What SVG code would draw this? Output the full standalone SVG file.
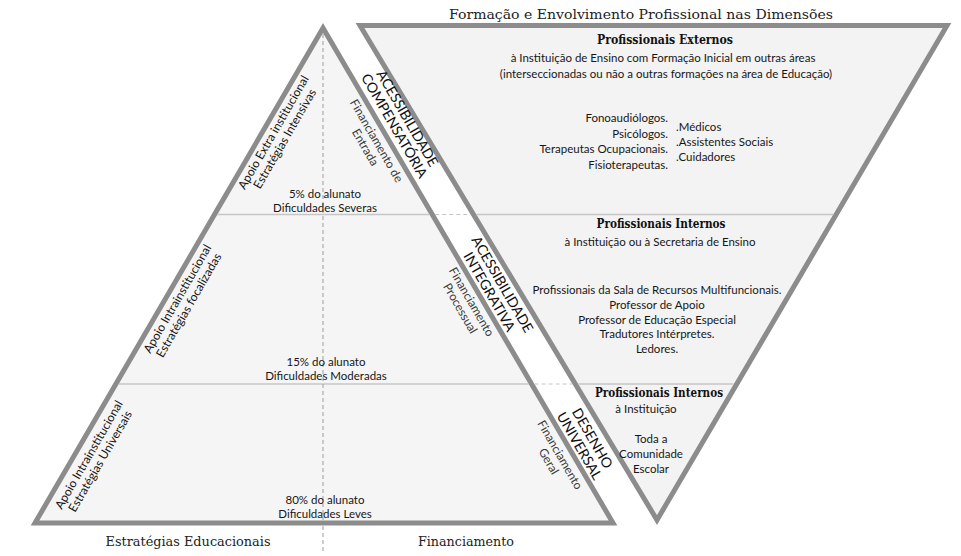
<svg xmlns="http://www.w3.org/2000/svg" width="961" height="556" viewBox="0 0 961 556">
<style>
.tri{stroke:#8c8c8c;stroke-width:5;stroke-linejoin:miter}
.div{stroke:#c6c6c6;stroke-width:1.5;fill:none}
.gap{stroke:#c6c6c6;stroke-width:1;stroke-dasharray:4 3;fill:none}
.vd{stroke:#9c9c9c;stroke-width:1;stroke-dasharray:4 3;fill:none}
.s{font-family:Lato,"Open Sans","DejaVu Sans",sans-serif;font-size:11.5px;fill:#161616}
.m{text-anchor:middle}
.e{text-anchor:end}
.sr{font-family:"DejaVu Serif","Liberation Serif",serif;font-size:13px;fill:#222}
.hb{font-family:"DejaVu Serif","Liberation Serif",serif;font-size:12.5px;font-weight:bold;fill:#111}
.r{font-family:Lato,"Open Sans","DejaVu Sans",sans-serif;font-size:12px;fill:#161616;text-anchor:middle}
.c{font-family:Lato,"Open Sans","DejaVu Sans",sans-serif;font-size:14px;fill:#111;text-anchor:middle}
.f{font-family:Lato,"Open Sans","DejaVu Sans",sans-serif;font-size:12px;fill:#3a3a3a;text-anchor:middle}
</style>
<rect width="961" height="556" fill="#ffffff"/>

<g id="left-triangle">
<polygon class="tri" points="323,28 35,523 613,523" fill="#f5f5f5"/>
</g>
<g id="right-triangle">
<polygon class="tri" points="360,25.5 947,25.5 657,520" fill="#f3f3f3"/>
</g>

<g id="connectors">
<line class="div" x1="217.5" y1="214.5" x2="429.3" y2="214.5"/>
<line class="gap" x1="435.3" y1="214.5" x2="470.5" y2="214.5"/>
<line class="div" x1="476.5" y1="214.5" x2="833.3" y2="214.5"/>
<line class="div" x1="118.8" y1="384" x2="528.6" y2="384"/>
<line class="gap" x1="534.6" y1="384" x2="572.3" y2="384"/>
<line class="div" x1="578.3" y1="384" x2="733.5" y2="384"/>
<line class="vd" x1="323" y1="34" x2="323" y2="520"/>
<line class="vd" x1="323" y1="526" x2="323" y2="551"/>
</g>

<g id="title">
<text class="sr m" x="641" y="19" textLength="384" lengthAdjust="spacingAndGlyphs">Formação e Envolvimento Profissional nas Dimensões</text>
</g>

<g id="level-severe">
<text class="s m" x="325" y="198">5% do alunato</text>
<text class="s m" x="325" y="212">Dificuldades Severas</text>
<g transform="translate(279,135.5) rotate(-60)">
<text class="r" x="0" y="-2.3">Apoio Extra institucional</text>
<text class="r" x="0" y="10.7">Estratégias Intensivas</text>
</g>
</g>

<g id="level-moderate">
<text class="s m" x="326" y="366">15% do alunato</text>
<text class="s m" x="326" y="380">Dificuldades Moderadas</text>
<g transform="translate(183,302) rotate(-60)">
<text class="r" x="0" y="-2.3">Apoio Intrainstitucional</text>
<text class="r" x="0" y="10.7">Estratégias focalizadas</text>
</g>
</g>

<g id="level-mild">
<text class="s m" x="325" y="504">80% do alunato</text>
<text class="s m" x="325" y="518">Dificuldades Leves</text>
<g transform="translate(94.5,458) rotate(-60)">
<text class="r" x="0" y="-2.3">Apoio Intrainstitucional</text>
<text class="r" x="0" y="10.7">Estratégias Universais</text>
</g>
</g>

<g id="acessibilidade-compensatoria">
<g transform="translate(401,122) rotate(60)">
<text class="c" x="0" y="-2.5">ACESSIBILIDADE</text>
<text class="c" x="0" y="12.5">COMPENSATÓRIA</text>
</g>
<g transform="translate(371,144) rotate(60)">
<text class="f" x="0" y="-2.3">Financiamento de</text>
<text class="f" x="0" y="10.7">Entrada</text>
</g>
</g>

<g id="acessibilidade-integrativa">
<g transform="translate(496,288) rotate(60)">
<text class="c" x="0" y="-2.5">ACESSIBILIDADE</text>
<text class="c" x="0" y="12.5">INTEGRATIVA</text>
</g>
<g transform="translate(466,305) rotate(60)">
<text class="f" x="0" y="-2.3">Financiamento</text>
<text class="f" x="0" y="10.7">Processual</text>
</g>
</g>

<g id="desenho-universal">
<g transform="translate(586,442) rotate(60)">
<text class="c" x="0" y="-2.5">DESENHO</text>
<text class="c" x="0" y="12.5">UNIVERSAL</text>
</g>
<g transform="translate(554.5,458) rotate(60)">
<text class="f" x="0" y="-2.3">Financiamento</text>
<text class="f" x="0" y="10.7">Geral</text>
</g>
</g>

<g id="profissionais-externos">
<text class="hb m" x="665" y="44" textLength="136" lengthAdjust="spacingAndGlyphs">Profissionais Externos</text>
<text class="s m" x="663" y="62">à Instituição de Ensino com Formação Inicial em outras áreas</text>
<text class="s m" x="666" y="78">(interseccionadas ou não a outras formações na área de Educação)</text>
<text class="s e" x="668" y="122">Fonoaudiólogos.</text>
<text class="s e" x="668" y="137.5">Psicólogos.</text>
<text class="s e" x="668" y="153">Terapeutas Ocupacionais.</text>
<text class="s e" x="668" y="168.5">Fisioterapeutas.</text>
<text class="s" x="676" y="131">.Médicos</text>
<text class="s" x="676" y="146">.Assistentes Sociais</text>
<text class="s" x="676" y="161">.Cuidadores</text>
</g>

<g id="profissionais-internos-secretaria">
<text class="hb m" x="661" y="228" textLength="129" lengthAdjust="spacingAndGlyphs">Profissionais Internos</text>
<text class="s m" x="660" y="246">à Instituição ou à Secretaria de Ensino</text>
<text class="s m" x="657" y="294">Profissionais da Sala de Recursos Multifuncionais.</text>
<text class="s m" x="657" y="309">Professor de Apoio</text>
<text class="s m" x="657" y="323.5">Professor de Educação Especial</text>
<text class="s m" x="657" y="338">Tradutores Intérpretes.</text>
<text class="s m" x="657" y="352.5">Ledores.</text>
</g>

<g id="profissionais-internos-instituicao">
<text class="hb m" x="659" y="397" textLength="128" lengthAdjust="spacingAndGlyphs">Profissionais Internos</text>
<text class="s m" x="646" y="413">à Instituição</text>
<text class="s m" x="651" y="443">Toda a</text>
<text class="s m" x="651" y="458">Comunidade</text>
<text class="s m" x="651" y="473">Escolar</text>
</g>

<g id="axis-labels">
<text class="sr m" x="188" y="546" textLength="165" lengthAdjust="spacingAndGlyphs">Estratégias Educacionais</text>
<text class="sr m" x="466" y="546" textLength="96" lengthAdjust="spacingAndGlyphs">Financiamento</text>
</g>
</svg>
